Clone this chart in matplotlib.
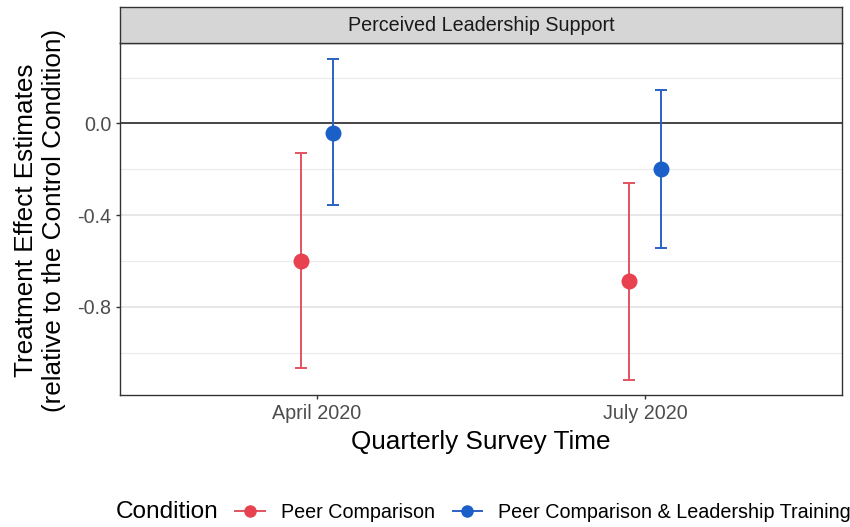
import numpy as np
import matplotlib.pyplot as plt
from matplotlib.lines import Line2D

plt.rcParams['font.family'] = ['Liberation Sans', 'DejaVu Sans']

# Data: treatment effect estimates with confidence bounds
times = ["April 2020", "July 2020"]
conditions = ["Peer Comparison", "Peer Comparison & Leadership Training"]
est_peer = [-0.600, -0.688]
low_peer = [-1.066, -1.120]
high_peer = [-0.131, -0.259]
est_lead = [-0.041, -0.201]
low_lead = [-0.356, -0.543]
high_lead = [0.279, 0.145]

estimates = [est_peer, est_lead]
lowers = [low_peer, low_lead]
uppers = [high_peer, high_lead]
point_colors = ["#E8414F", "#1B5FC9"]
line_colors = ["#E2535F", "#2A62C4"]
offsets = [-0.048, 0.048]

W, H = 850, 527
fig = plt.figure(figsize=(W / 100, H / 100), dpi=100)

px_l, px_r, px_t, px_b = 120, 842, 42.7, 395
ax = fig.add_axes([px_l / W, 1 - px_b / H, (px_r - px_l) / W, (px_b - px_t) / H])

x = np.arange(len(times))
ax.set_xlim(-0.6, len(times) - 1 + 0.6)
ax.set_ylim(-1.185, 0.352)

# grid
for yv in [0.2, -0.2, -0.6, -1.0]:
    ax.axhline(yv, color="#EBEBEB", lw=0.8, zorder=0)
for yv in [0.0, -0.4, -0.8]:
    ax.axhline(yv, color="#E5E5E5", lw=1.3, zorder=0)
ax.axhline(0, color="#1a1a1a", lw=1.1, zorder=1)

for k in range(len(conditions)):
    xs = x + offsets[k]
    est = np.array(estimates[k])
    lo = np.array(lowers[k])
    hi = np.array(uppers[k])
    ax.errorbar(xs, est, yerr=[est - lo, hi - est], fmt="none",
                ecolor=line_colors[k], elinewidth=1.4, capsize=4.4,
                capthick=1.4, zorder=2)
    ax.plot(xs, est, "o", color=point_colors[k], markersize=11.5,
            markeredgewidth=0, zorder=3)

ax.set_yticks([0.0, -0.4, -0.8])
ax.set_yticklabels(["0.0", "-0.4", "-0.8"])
ax.set_xticks(x)
ax.set_xticklabels(times)
ax.tick_params(axis="both", labelsize=14.2, labelcolor="#4D4D4D",
               color="#333333", length=3.2, width=1.0, pad=3)
for s in ax.spines.values():
    s.set_color("#333333")
    s.set_linewidth(1.0)

# facet strip
strip_top = 6.5
sax = fig.add_axes([px_l / W, 1 - px_t / H, (px_r - px_l) / W, (px_t - strip_top) / H])
sax.set_facecolor("#D6D6D6")
sax.set_xticks([])
sax.set_yticks([])
for s in sax.spines.values():
    s.set_color("#333333")
    s.set_linewidth(1.0)
sax.text(0.5, 0.47, "Perceived Leadership Support", ha="center", va="center",
         fontsize=14.2, color="#1A1A1A", transform=sax.transAxes)

# axis titles
fig.text(40 / W, 1 - 220 / H, "Treatment Effect Estimates\n(relative to the Control Condition)",
         rotation=90, ha="center", va="center", fontsize=18.8, linespacing=1.2,
         color="black")
fig.text((348 + 613) / 2 / W, 1 - 441.5 / H, "Quarterly Survey Time",
         ha="center", va="center", fontsize=18.8, color="black")

# legend
fig.text(116 / W, 1 - 512 / H, "Condition", ha="left", va="center",
         fontsize=17.6, color="black")
handles = [Line2D([0], [0], color=line_colors[k], lw=1.4, marker="o",
                  markersize=9, markerfacecolor=point_colors[k],
                  markeredgewidth=0) for k in range(len(conditions))]
fig.legend(handles, conditions, loc="center left",
           bbox_to_anchor=(235 / W, 1 - 512 / H), ncol=2, frameon=False,
           fontsize=14.2, handlelength=1.52, handletextpad=0.8,
           columnspacing=0.9, borderpad=0, borderaxespad=0)

fig.savefig("out.png", dpi=100)
